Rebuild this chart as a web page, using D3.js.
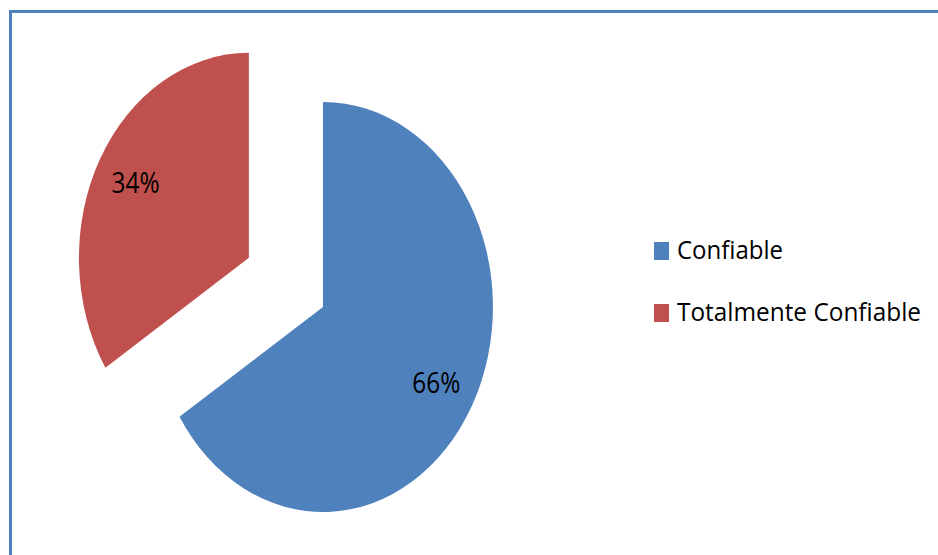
<!DOCTYPE html>
<html>
<head>
<meta charset="utf-8">
<script src="https://cdn.jsdelivr.net/npm/d3@7"></script>
<style>
  html, body { margin: 0; padding: 0; background: #fff; }
  svg { display: block; }
</style>
</head>
<body>
<svg id="chart" width="938" height="555"></svg>
<script>
// Data
const categories = ["Confiable", "Totalmente Confiable"];
const values = [66, 34];
const colors = ["#4F81BD", "#C0504D"];
const exploded = [false, true];

const W = 938, H = 555;
const svg = d3.select("#chart");

// Chart frame (left and top edges visible, runs past the page edge)
svg.append("rect")
  .attr("x", 10.5).attr("y", 11.5)
  .attr("width", W + 20).attr("height", H + 20)
  .attr("fill", "none")
  .attr("stroke", "#4F81BD")
  .attr("stroke-width", 3);

// Pie geometry: an ellipse (horizontally squeezed circle)
const cx = 323, cy = 307, r = 205, sx = 0.829;
const explodeDist = 102;
const labelR = 156;

const pie = d3.pie().sort(null).value(d => d.value);
const arcs = pie(categories.map((c, i) => ({ name: c, value: values[i], i })));

const arc = d3.arc().innerRadius(0).outerRadius(r);
const labelArc = d3.arc().innerRadius(labelR).outerRadius(labelR);

function offset(d) {
  if (!exploded[d.data.i]) return [0, 0];
  const mid = (d.startAngle + d.endAngle) / 2;
  return [explodeDist * Math.sin(mid), -explodeDist * Math.cos(mid)];
}

const pieG = svg.append("g")
  .attr("transform", `translate(${cx},${cy}) scale(${sx},1)`);

pieG.selectAll("path")
  .data(arcs)
  .join("path")
  .attr("d", arc)
  .attr("fill", d => colors[d.data.i])
  .attr("transform", d => `translate(${offset(d)[0]},${offset(d)[1]})`);

// Percentage labels
const fmt = d3.format(".0%");
const total = d3.sum(values);
svg.append("g").selectAll("text")
  .data(arcs)
  .join("text")
  .attr("x", d => cx + sx * (labelArc.centroid(d)[0] + offset(d)[0]))
  .attr("y", d => cy + (labelArc.centroid(d)[1] + offset(d)[1]))
  .attr("dy", "0.36em")
  .attr("text-anchor", "middle")
  .attr("font-family", "'Open Sans', sans-serif")
  .attr("font-size", 29)
  .attr("textLength", 48)
  .attr("lengthAdjust", "spacingAndGlyphs")
  .attr("fill", "#000")
  .text(d => fmt(d.data.value / total));

// Legend
const legX = 654, legY = 242, legGap = 62;
const legWidths = [106, 244];
const leg = svg.append("g").selectAll("g")
  .data(categories)
  .join("g")
  .attr("transform", (d, i) => `translate(${legX},${legY + i * legGap})`);

leg.append("rect")
  .attr("width", 15).attr("height", 18)
  .attr("fill", (d, i) => colors[i]);

leg.append("text")
  .attr("x", 23).attr("y", 17)
  .attr("font-family", "'Open Sans', sans-serif")
  .attr("font-size", 26)
  .attr("textLength", (d, i) => legWidths[i])
  .attr("lengthAdjust", "spacingAndGlyphs")
  .attr("fill", "#000")
  .text(d => d);
</script>
</body>
</html>
